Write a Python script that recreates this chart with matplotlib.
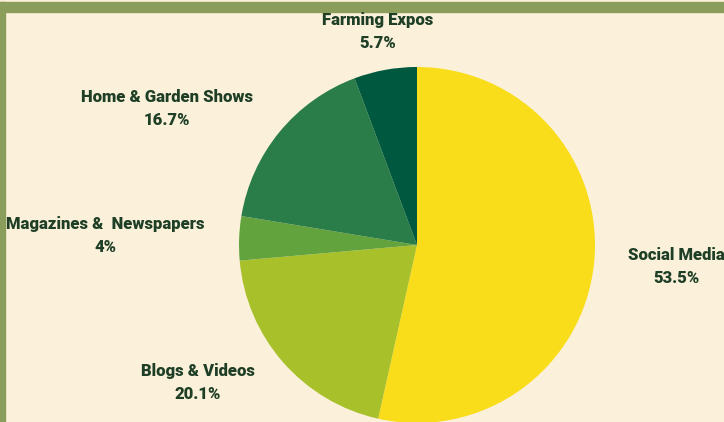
import matplotlib.pyplot as plt
from matplotlib.patches import Rectangle

labels = ['Social Media', 'Blogs & Videos', 'Magazines &  Newspapers',
          'Home & Garden Shows', 'Farming Expos']
shares = [53.5, 20.1, 4, 16.7, 5.7]
pct_text = ['53.5%', '20.1%', '4%', '16.7%', '5.7%']
colors = ['#F9DC1A', '#A8C02A', '#63A33E', '#2A7D48', '#00583F']

# label centres in pixel coords (from top-left)
label_pos = [(676, 255), (198, 371), (105, 224), (167, 97), (378, 20)]

W, H = 724, 422
fig = plt.figure(figsize=(W / 100, H / 100), dpi=100)
fig.patch.set_facecolor('#FBF1DA')
ax = fig.add_axes([0, 0, 1, 1])

# green frame along top and left
ax.add_patch(Rectangle((0, H - 12), W, 10, color='#8A9D5A', zorder=0))
ax.add_patch(Rectangle((0, 0), 5, H - 2, color='#8A9D5A', zorder=0))

ax.pie(shares, colors=colors, startangle=90, counterclock=False,
       center=(417, H - 245), radius=178, frame=True,
       wedgeprops=dict(linewidth=0))
ax.set_xlim(0, W)
ax.set_ylim(0, H)
ax.set_aspect('equal')
ax.axis('off')

txt = dict(ha='center', va='center', color='#1E3F26', fontsize=12,
           fontweight='heavy', family='Roboto')
for lab, pct, (x, y) in zip(labels, pct_text, label_pos):
    ax.text(x, H - y, lab, **txt)
    ax.text(x, H - y - 23, pct, **txt)

fig.savefig('out.png', dpi=100, facecolor=fig.get_facecolor())
